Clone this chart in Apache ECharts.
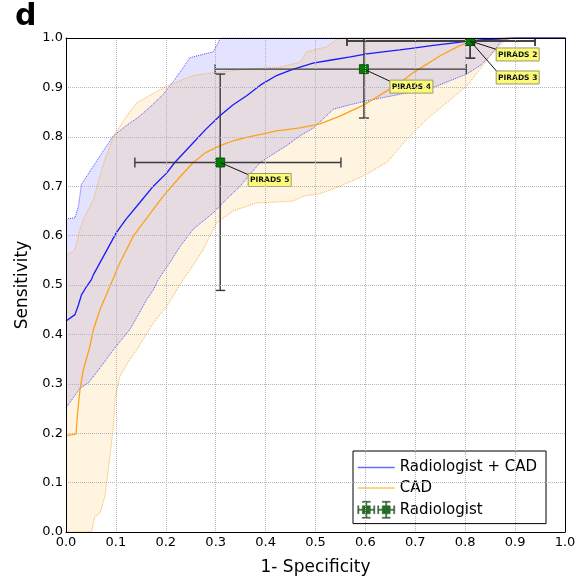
<!DOCTYPE html>
<html><head><meta charset="utf-8">
<script src="https://cdn.jsdelivr.net/npm/echarts@6/dist/echarts.min.js"></script>
<style>html,body{margin:0;padding:0;background:#fff}#c{width:581px;height:582px}</style>
</head><body><div id="c"></div>
<script>
// ---- data ----
const blueMean = [[0,0.427],[0.018,0.44],[0.025,0.46],[0.031,0.48],[0.04,0.495],[0.051,0.511],[0.055,0.521],[0.075,0.558],[0.101,0.606],[0.12,0.633],[0.148,0.667],[0.175,0.7],[0.202,0.727],[0.218,0.748],[0.255,0.788],[0.28,0.815],[0.309,0.843],[0.335,0.865],[0.362,0.883],[0.39,0.905],[0.422,0.924],[0.45,0.935],[0.469,0.941],[0.495,0.949],[0.535,0.956],[0.57,0.962],[0.603,0.968],[0.635,0.972],[0.669,0.976],[0.70,0.98],[0.736,0.985],[0.77,0.989],[0.803,0.993],[0.83,0.996],[0.863,0.998],[0.9,1.0],[1,1]];
const blueUpper = [[0,0.634],[0.018,0.636],[0.025,0.66],[0.031,0.704],[0.055,0.741],[0.075,0.772],[0.095,0.802],[0.12,0.822],[0.148,0.842],[0.17,0.862],[0.195,0.886],[0.215,0.912],[0.235,0.94],[0.248,0.96],[0.295,0.972],[0.305,0.99],[0.309,1.0],[1,1]];
const blueLower = [[0,0.251],[0.028,0.291],[0.045,0.302],[0.068,0.332],[0.095,0.369],[0.128,0.41],[0.145,0.44],[0.162,0.471],[0.175,0.49],[0.185,0.511],[0.208,0.545],[0.23,0.58],[0.255,0.613],[0.295,0.646],[0.32,0.672],[0.349,0.7],[0.389,0.748],[0.415,0.765],[0.442,0.782],[0.469,0.802],[0.496,0.818],[0.536,0.856],[0.57,0.865],[0.603,0.873],[0.669,0.886],[0.736,0.9],[0.803,0.927],[0.83,0.944],[0.85,0.964],[0.87,0.991],[0.883,0.998],[0.9,1.0],[1,1]];
const orangeMean = [[0,0.195],[0.02,0.198],[0.024,0.25],[0.028,0.288],[0.035,0.329],[0.048,0.376],[0.055,0.41],[0.068,0.45],[0.085,0.49],[0.108,0.545],[0.135,0.599],[0.165,0.64],[0.195,0.68],[0.225,0.715],[0.255,0.748],[0.28,0.768],[0.309,0.782],[0.335,0.792],[0.362,0.799],[0.39,0.805],[0.422,0.812],[0.469,0.818],[0.509,0.826],[0.549,0.842],[0.596,0.864],[0.643,0.893],[0.67,0.91],[0.696,0.93],[0.72,0.945],[0.75,0.964],[0.79,0.985],[0.816,0.993],[0.87,0.999],[0.95,1.0],[1,1]];
const orangeUpper = [[0,0.558],[0.018,0.572],[0.028,0.613],[0.038,0.64],[0.055,0.673],[0.065,0.71],[0.08,0.76],[0.095,0.8],[0.12,0.84],[0.142,0.869],[0.17,0.885],[0.202,0.903],[0.255,0.924],[0.299,0.93],[0.362,0.937],[0.429,0.941],[0.469,0.951],[0.482,0.972],[0.522,0.982],[0.543,0.998],[0.55,1.0],[1,1]];
const orangeLower = [[0,0],[0.051,0],[0.058,0.031],[0.068,0.038],[0.078,0.072],[0.088,0.153],[0.095,0.214],[0.098,0.268],[0.108,0.315],[0.125,0.345],[0.142,0.369],[0.175,0.423],[0.202,0.457],[0.235,0.511],[0.255,0.54],[0.275,0.572],[0.302,0.626],[0.335,0.65],[0.382,0.666],[0.455,0.67],[0.476,0.68],[0.509,0.685],[0.549,0.7],[0.596,0.721],[0.643,0.748],[0.683,0.795],[0.723,0.836],[0.763,0.869],[0.803,0.903],[0.83,0.937],[0.85,0.964],[0.876,0.991],[0.89,1.0],[1,1]];

const radNames = ['PIRADS 2','PIRADS 3','PIRADS 4','PIRADS 5'];
const radX     = [0.81, 0.81, 0.597, 0.309];
const radY     = [0.994, 0.994, 0.937, 0.748];
const radXLow  = [0.563, 0.563, 0.299, 0.138];
const radXHigh = [0.94, 0.94, 0.802, 0.551];
const radYLow  = [0.959, 0.959, 0.838, 0.489];
const radYHigh = [1.03, 1.03, 1.05, 0.927];

const axisTicks = [0,0.1,0.2,0.3,0.4,0.5,0.6,0.7,0.8,0.9,1.0];

// ---- layout / style ----
const FONT = 'DejaVu Sans';
const labelOffset = [[26,7],[26,30],[26,11],[28,11]]; // pixel offset of label box from its point
const BOX_W = 43, BOX_H = 13;

const chart = echarts.init(document.getElementById('c'), null, {renderer:'canvas'});

function band(upper, lower, fill, z) {
  return {
    type:'custom', silent:true, clip:true, z:z, data:[0], legendHoverLink:false,
    renderItem:(params, api) => {
      const pts = upper.map(p => api.coord(p)).concat(lower.slice().reverse().map(p => api.coord(p)));
      return {type:'polygon', shape:{points:pts}, style:{fill:fill, stroke:null}};
    }
  };
}
function edge(pts, color, z) {
  return {type:'line', data:pts, symbol:'none', silent:true, z:z, clip:true,
    lineStyle:{color:color, width:1, type:'dotted'}};
}

const radRows = radNames.map((n,i) => [radX[i], radY[i], radXLow[i], radXHigh[i], radYLow[i], radYHigh[i], i]);

const radIcon = (function(){
  function unit(cx){
    return 'M'+(cx-3)+',4 h6 v6 h-6 Z ' +
      'M'+(cx-6)+',6.6 h12 v0.8 h-12 Z ' +
      'M'+(cx-0.4)+',1 h0.8 v12 h-0.8 Z ' +
      'M'+(cx-6.4)+',4 h0.8 v6 h-0.8 Z ' +
      'M'+(cx+5.6)+',4 h0.8 v6 h-0.8 Z ' +
      'M'+(cx-3)+',0.6 h6 v0.8 h-6 Z ' +
      'M'+(cx-3)+',12.6 h6 v0.8 h-6 Z ';
  }
  return 'path://' + unit(7) + unit(22);
})();

const option = {
  backgroundColor:'#fff',
  animation:false,
  title:{text:'d', left:10, top:-3, textStyle:{fontSize:30, fontWeight:'bold', fontFamily:FONT, color:'#000'}},
  grid:{left:66, right:16, top:38, bottom:50, containLabel:false},
  xAxis:[{
    type:'value', min:0, max:1, interval:0.1, z:10,
    name:'1- Specificity', nameLocation:'middle', nameGap:27,
    nameTextStyle:{fontSize:17, fontFamily:FONT, color:'#000'},
    axisLine:{show:true, lineStyle:{color:'#000', width:1}},
    axisTick:{show:false},
    axisLabel:{fontSize:13, fontFamily:FONT, color:'#000', margin:4, formatter:v => v.toFixed(1)},
    splitLine:{show:true, lineStyle:{color:'#b5b5b5', type:'dotted', width:1}}
  },{
    type:'value', min:0, max:1, interval:0.1, position:'top', z:10,
    axisLine:{show:true, onZero:false, lineStyle:{color:'#000', width:1}},
    axisTick:{show:false}, axisLabel:{show:false}, splitLine:{show:false}
  }],
  yAxis:[{
    type:'value', min:0, max:1, interval:0.1, z:10,
    name:'Sensitivity', nameLocation:'middle', nameGap:33, nameRotate:90,
    nameTextStyle:{fontSize:17, fontFamily:FONT, color:'#000'},
    axisLine:{show:true, lineStyle:{color:'#000', width:1}},
    axisTick:{show:false},
    axisLabel:{fontSize:13, fontFamily:FONT, color:'#000', margin:3, formatter:v => v.toFixed(1)},
    splitLine:{show:true, lineStyle:{color:'#b5b5b5', type:'dotted', width:1}}
  },{
    type:'value', min:0, max:1, interval:0.1, position:'right', z:10,
    axisLine:{show:true, onZero:false, lineStyle:{color:'#000', width:1}},
    axisTick:{show:false}, axisLabel:{show:false}, splitLine:{show:false}
  }],
  legend:{
    orient:'vertical', left:353, top:451, padding:[9,9,5,4], itemGap:5.5,
    itemWidth:37, itemHeight:17, itemTextGap:15,
    borderColor:'#000', borderWidth:1, borderRadius:0, backgroundColor:'#fff',
    textStyle:{fontSize:15, fontFamily:FONT, color:'#000'},
    data:[
      {name:'Radiologist + CAD', lineStyle:{color:'#6b6bff', width:1.5}, itemStyle:{opacity:0}},
      {name:'CAD', lineStyle:{color:'#ffc25a', width:1.5}, itemStyle:{opacity:0}},
      {name:'Radiologist', icon:radIcon, itemStyle:{color:'#008000', borderColor:'#555', borderWidth:0.6}}
    ]
  },
  series:[
    band(blueUpper, blueLower, 'rgba(0,0,255,0.11)', 1),
    band(orangeUpper, orangeLower, 'rgba(255,165,0,0.12)', 1),
    edge(blueUpper, '#5050ff', 2), edge(blueLower, '#5050ff', 2),
    edge(orangeUpper, '#f5b04a', 2), edge(orangeLower, '#f5b04a', 2),
    {name:'CAD', type:'line', data:orangeMean, symbol:'none', z:3, clip:true,
      lineStyle:{color:'#ffa21a', width:1.3}, itemStyle:{color:'#ffc25a'}},
    {name:'Radiologist + CAD', type:'line', data:blueMean, symbol:'none', z:3, clip:true,
      lineStyle:{color:'#1a1aff', width:1.3}, itemStyle:{color:'#6b6bff'}},
    {name:'Radiologist', type:'custom', z:4, clip:true, data:radRows, itemStyle:{color:'#008000'},
      renderItem:(params, api) => {
        const x = api.value(0), y = api.value(1);
        const c = api.coord([x,y]);
        const l = api.coord([api.value(2), y]), r = api.coord([api.value(3), y]);
        const b = api.coord([x, api.value(4)]), t = api.coord([x, api.value(5)]);
        const cap = 5;
        const st = {stroke:'#3a3a3a', lineWidth:1.4};
        const seg = (x1,y1,x2,y2) => ({type:'line', shape:{x1:x1,y1:y1,x2:x2,y2:y2}, style:st});
        return {type:'group', children:[
          seg(l[0],l[1],r[0],r[1]),
          seg(b[0],b[1],t[0],t[1]),
          seg(l[0],l[1]-cap,l[0],l[1]+cap),
          seg(r[0],r[1]-cap,r[0],r[1]+cap),
          seg(b[0]-cap,b[1],b[0]+cap,b[1]),
          seg(t[0]-cap,t[1],t[0]+cap,t[1]),
          {type:'rect', shape:{x:c[0]-4.5, y:c[1]-4.5, width:9, height:9},
            style:{fill:'#008000', stroke:'#0a3a0a', lineWidth:0.8}}
        ]};
      }},
    {type:'custom', z:6, clip:false, silent:true, data:radRows,
      renderItem:(params, api) => {
        const i = api.value(6);
        const c = api.coord([api.value(0), api.value(1)]);
        const o = labelOffset[i];
        const bx = c[0] + o[0], by = c[1] + o[1];
        return {type:'group', children:[
          {type:'line', shape:{x1:c[0], y1:c[1], x2:bx+2, y2:by+2}, style:{stroke:'#111', lineWidth:1}},
          {type:'rect', shape:{x:bx, y:by, width:BOX_W, height:BOX_H},
            style:{fill:'#fbfb78', stroke:'#9a9a6a', lineWidth:1}},
          {type:'text', x:bx+BOX_W/2, y:by+BOX_H/2+0.5,
            style:{text:radNames[i], fontSize:7.5, fontWeight:'bold', fontFamily:FONT, fill:'#111', align:'center', verticalAlign:'middle'}}
        ]};
      }}
  ]
};
chart.setOption(option);
</script></body></html>
